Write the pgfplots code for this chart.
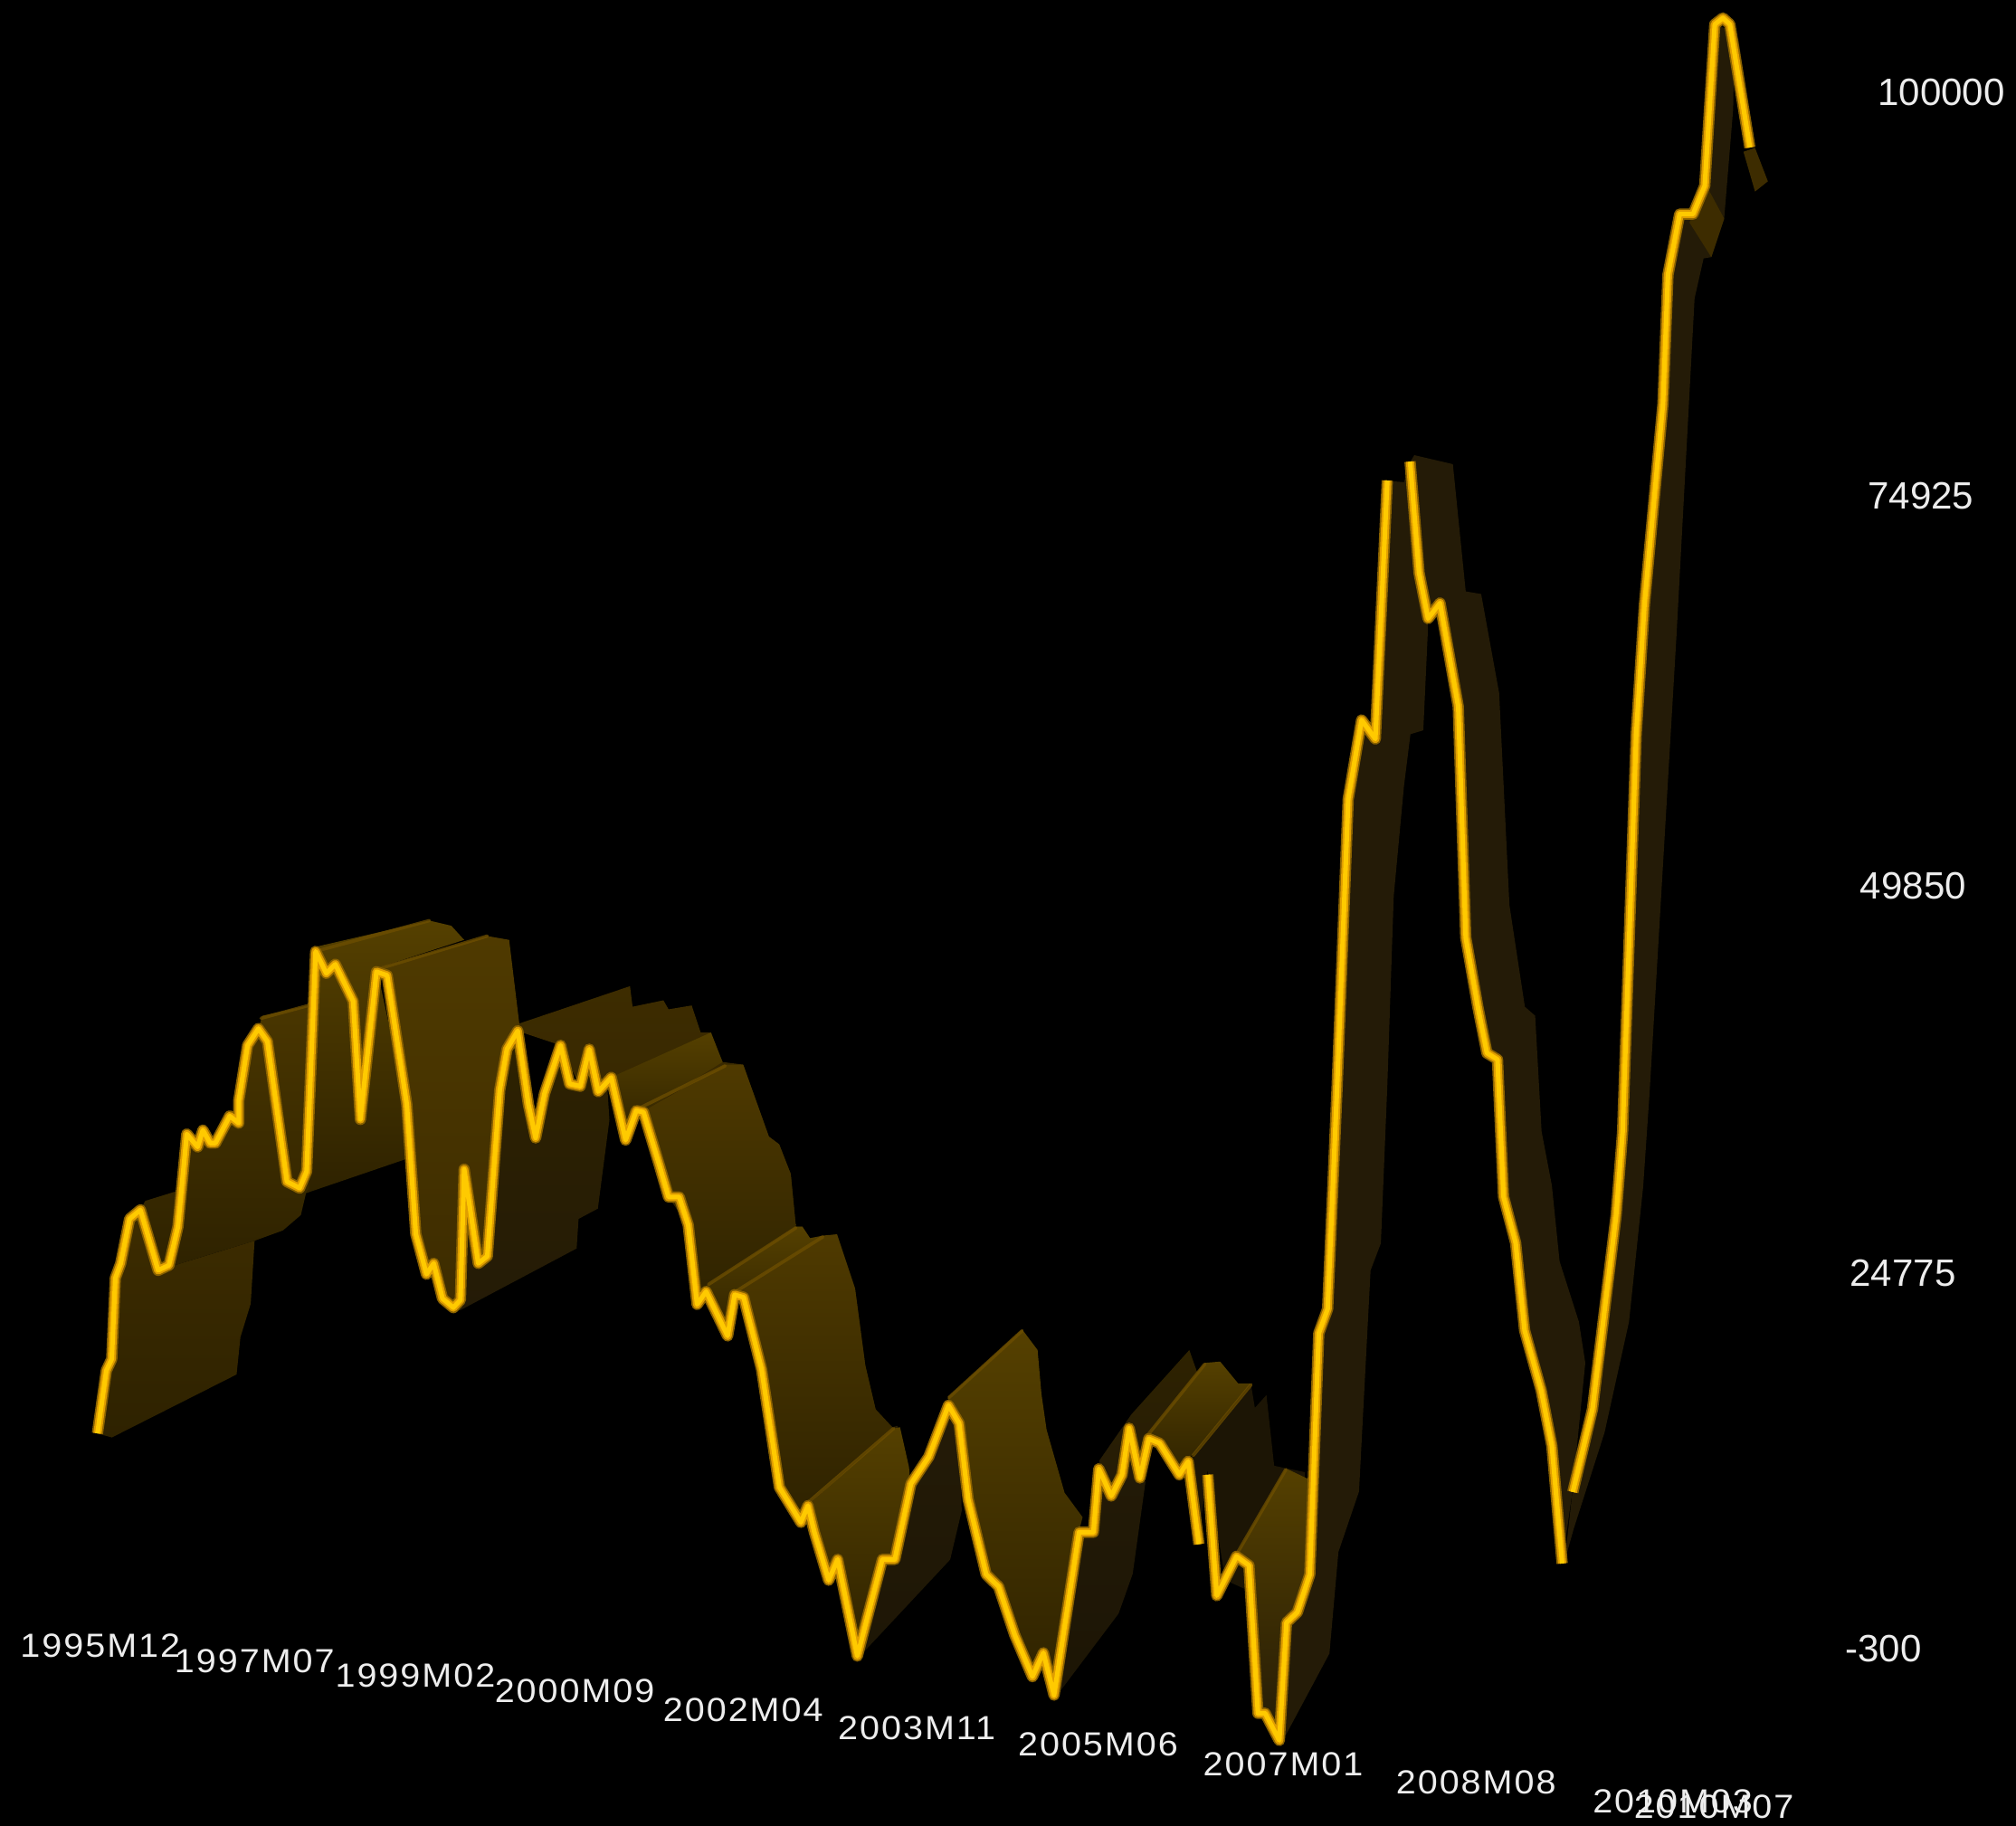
\documentclass[border=0pt]{standalone}
\usepackage{graphicx}
\usepackage{pgfplots}
\usepackage{pgfplotstable}
\usepackage{fontspec}
\setmainfont{Liberation Sans}
\newfontfamily\xfont[LetterSpace=5]{Liberation Sans}
\pgfplotsset{compat=1.18}
\definecolor{txt}{HTML}{EDEDED}
\definecolor{lit}{HTML}{554000}
\definecolor{top2}{HTML}{4F3A00}
\definecolor{mid}{HTML}{3D2C00}
\definecolor{low}{HTML}{2E2200}
\definecolor{dk}{HTML}{241B07}
\definecolor{vdk}{HTML}{1C1505}
\definecolor{ridge}{HTML}{6E4F00}
\definecolor{gA}{HTML}{8A6200}
\definecolor{gB}{HTML}{E09E00}
\definecolor{gC}{HTML}{FFCA00}
\pgfplotstableread{
x y
75.8 1114.8
82.7 1066
86.9 1057
89.7 994
93.9 982.6
100.8 948
109.2 941
123 988
131.4 984
138.4 954
145.3 882
153.7 892
157.8 879
163.4 889
167.6 889
178.7 868
185.7 873.5
185.7 856
192.6 813
201 800
208 810
223.2 919
233 924
238.5 911
245.5 740
253.8 757
260.8 750
274.7 778.7
280.3 870.6
292.8 755.8
301.1 758.6
316.4 859
323.4 959.7
331.7 991
337.3 982.6
344.2 1010
352.6 1017
358.1 1011
361 909.4
372 982.6
379 977
388.7 847.7
394.3 816
402.7 801.7
411 859
416.6 885
423.5 850.5
436 813
443 843
451.3 844.8
458.3 816
465.3 849
475.4 838
486.6 886.7
494.9 863.8
500.5 865
513 906.8
520 931
528.3 931
535.3 952.8
542.2 1014.5
549.2 1004.5
565.9 1039
571.4 1007
578.4 1009
592.3 1064.8
606.2 1156.7
622.9 1184
628.4 1171
633.4 1191.7
644.5 1229
651.5 1212.8
666.8 1288
686.3 1212.8
696 1212.8
708.5 1154
722.4 1133
737.7 1093
746 1107
753 1166
767 1224.5
776.7 1234
789.2 1271.5
803 1304
811.5 1285.5
819.8 1318.4
839.3 1191.7
850.4 1191.7
854.6 1142.4
864.3 1163.5
872.7 1147
878.2 1110.8
886.6 1149.5
893.5 1119
901.9 1122.5
917.2 1147
924.1 1136.6
932.5 1201
}\lineA
\pgfplotstableread{
x y
939.4 1147
946.4 1241
961.7 1210.5
971.4 1217.5
978.4 1332.5
984 1332.5
995 1353.6
1000.6 1262
1009 1254
1018.7 1224.5
1025.7 1037
1032.6 1018
1040 844.5
1048.6 621.4
1059 560
1069.7 574.7
1079 373.7
}\lineB
\pgfplotstableread{
x y
1096.7 359
1103.7 445.5
1110.7 481
1120 469
1134.2 549.6
1140 729
1149.4 783
1156.5 819
1164.7 824
1169.4 930.7
1178.8 966.6
1185.8 1034.8
1198.7 1081.4
1207 1124.5
1215 1216
}\lineC
\pgfplotstableread{
x y
1223.3 1160.4
1238.6 1095.8
1257 945
1262 880.4
1272.6 571
1279 470
1293.4 314
1297.3 213.7
1306.4 166.5
1316.8 166.5
1325.9 144.5
1333.7 18.9
1340 14
1345.4 18.9
1361 114.7
}\lineD
\newcommand{\band}[3]{\addplot[draw=none,top color=#1,bottom color=#2] coordinates {#3};}
\newcommand{\rdg}[1]{\addplot[ridge,line width=1.3pt,opacity=0.75,line cap=round,no markers] coordinates {#1};}
\newcommand{\glow}[1]{%
\addplot[gA,line width=4.4pt,line join=round,no markers] table[x=x,y=y] {#1};
\addplot[gB,line width=3.2pt,line join=round,no markers] table[x=x,y=y] {#1};
\addplot[gC,line width=1.8pt,line join=round,no markers] table[x=x,y=y] {#1};}
\newcommand{\xl}[3]{\node[txt,font=\xfont\fontsize{13}{15}\selectfont] at (axis cs:#1,#2) {\scalebox{1.07}[1]{#3}};}
\newcommand{\yl}[3]{\node[txt,font=\fontsize{14.8}{16}\selectfont] at (axis cs:#1,#2) {#3};}
\begin{document}
\begin{tikzpicture}
\begin{axis}[scale only axis,width=784pt,height=710pt,xmin=0,xmax=1568,ymin=0,ymax=1420,y dir=reverse,hide axis,clip=true]
\addplot[draw=none,fill=black] coordinates {(0,0)(1568,0)(1568,1420)(0,1420)};
% back strips, middle section
\band{mid}{dk}{(403,802)(404,796)(490,767)(492,783)(516,778)(520,785)(538,782)(545,803)(552,803)(562,826)(578,828)(598,884)(606,890)(615,913)(619,954)(624,954)(630,963)(651,960)(665,1002)(673,1062)(681,1096)(690,1111)(698,1109)(707,1145)(690,1150)(628,1171)(606,1157)(592,1065)(578,1009)(542,1014)(535,953)(520,931)(500,865)(475,838)(465,849)(451,845)(436,813)}
\band{lit}{low}{(475,838)(553,803)(562,826)(506,861)(500,865)(495,864)(486,887)}
\band{top2}{low}{(495,864)(500,865)(506,861)(564,828)(578,828)(598,884)(606,890)(615,913)(619,954)(551,999)(542,1014)(535,953)(528,931)(520,931)(513,907)}
\band{lit}{low}{(549,1004)(551,999)(619,954)(624,954)(630,963)(640,961)(573,1004)(566,1039)}
\band{top2}{low}{(571,1007)(578,1009)(592,1065)(606,1157)(623,1184)(628,1168)(695,1111)(681,1096)(673,1062)(665,1002)(651,960)(640,961)(573,1004)}
\band{lit}{low}{(628,1171)(633,1192)(645,1229)(652,1213)(667,1288)(686,1213)(696,1213)(708,1154)(707,1141)(700,1110)(695,1111)}
\band{dk}{vdk!80!dk}{(667,1288)(686,1213)(696,1213)(708,1154)(722,1133)(738,1093)(746,1107)(748,1175)(739,1213)(667,1290)}
% left section
\band{mid}{low}{(76,1115)(83,1066)(87,1057)(90,994)(94,983)(101,948)(109,941)(123,988)(198,965)(195,1014)(187,1040)(184,1069)(87,1118)}
\band{low}{dk}{(353,1017)(358,1011)(361,909)(372,983)(379,977)(389,848)(394,816)(403,802)(411,859)(417,885)(424,851)(436,813)(443,843)(451,845)(458,816)(465,849)(472,840)(474,871)(465,940)(450,948)(448.5,971)(358,1019)}
\band{lit}{low}{(245,740)(243,737)(334,716)(351,720)(361,731)(293,753)(316,859)(323,899)(238,928)(240,925)}
\band{top2}{low}{(109,941)(113,934)(142,925)(145,882)(154,892)(158,879)(163,889)(168,889)(179,868)(186,856)(193,813)(201,800)(204,790)(240,782)(246,740)(240,925)(238,928)(234,945)(220,957)(198,965)(123,988)}
\band{top2}{mid}{(293,753)(379,728)(396,731)(404,797)(403,802)(394,816)(389,848)(379,977)(372,983)(361,909)(358,1011)(353,1017)(344,1010)(337,983)(332,991)(323,960)(316,859)(301,759)}
% second hump
\band{lit}{low}{(738,1093)(738,1086)(795,1034)(807,1050)(810,1084)(814,1112)(828,1161)(842,1180)(839,1192)(820,1318)(811,1286)(803,1304)(789,1271)(777,1234)(767,1224)(753,1166)(746,1107)}
\band{dk}{vdk}{(820,1318)(839,1192)(850,1192)(855,1142)(864,1163)(873,1147)(878,1111)(887,1150)(891,1152)(881,1224)(870,1255)(821,1320)}
\band{low}{dk}{(855,1142)(855,1136)(880,1100)(925,1050)(931,1067)(893,1119)(887,1150)(878,1111)(873,1147)(864,1163)}
\band{vdk}{vdk}{(928,1133)(973,1077)(976,1095)(985,1085)(991,1140)(1015,1145)(1009,1254)(953,1229)(939,1143)(932,1201)}
\band{lit}{low}{(892,1117)(937,1060)(949,1059)(963,1076)(973,1076)(928,1131)(924,1135)(917,1147)(902,1122)(893,1119)}
\band{lit}{dk}{(947,1241)(962,1210)(971,1217)(978,1332)(984,1332)(995,1353)(1001,1262)(1009,1254)(1019,1224)(1019,1151)(1000,1142)(953,1224)}
% right section
\band{dk}{dk}{(995,1353)(1001,1262)(1009,1254)(1019,1224)(1026,1037)(1033,1018)(1040,844)(1049,621)(1059,560)(1070,575)(1079,374)(1092,375)(1097,359)(1104,445)(1111,481)(1107,568)(1097,571)(1092,611)(1084,697)(1079,845)(1074,967)(1066,988)(1057,1160)(1041,1207)(1034,1286)(996,1357)}
\band{dk}{dk}{(1097,359)(1100,354)(1130,361)(1140,460)(1152,462)(1166,539)(1174,704)(1186,783)(1194,790)(1199,880)(1207,922)(1213,981)(1228,1028)(1233,1060)(1223,1160)(1215,1216)(1207,1124)(1199,1081)(1186,1035)(1179,967)(1169,931)(1165,824)(1156,819)(1149,783)(1140,729)(1134,550)(1120,469)(1111,481)(1104,445)}
\band{dk}{dk}{(1217,1214)(1223,1160)(1239,1096)(1257,945)(1262,880)(1273,571)(1279,470)(1293,314)(1297,214)(1306,166)(1317,167)(1326,144)(1334,19)(1349,25)(1348,85)(1341,170)(1331,200)(1325,201)(1318,232)(1304,493)(1283,850)(1278,923)(1267,1028)(1248,1114)(1224,1189)}
\band{mid}{mid}{(1314,173)(1331,200)(1341,170)(1327,144)}
\band{dk}{dk}{(1345,19)(1361,115)(1365,115)(1352,30)}
\band{mid}{mid}{(1356,118)(1365,115)(1375,141)(1365,149)}
% lit ridges
\rdg{(245,740)(334,716)}
\rdg{(293,754)(379,728)}
\rdg{(203,792)(240,782)}
\rdg{(495,863)(564,829)}
\rdg{(551,999)(619,955)}
\rdg{(573,1004)(640,962)}
\rdg{(628,1169)(695,1111)}
\rdg{(738,1087)(795,1035)}
\rdg{(892,1117)(937,1061)}
\rdg{(928,1132)(973,1077)}
\rdg{(953,1224)(1000,1143)}
% the line
\glow{\lineA}
\glow{\lineB}
\glow{\lineC}
\glow{\lineD}
% labels
\xl{78}{1280}{1995M12}
\xl{198}{1292}{1997M07}
\xl{323}{1303}{1999M02}
\xl{447}{1315}{2000M09}
\xl{578}{1330}{2002M04}
\xl{713}{1344}{2003M11}
\xl{854}{1357}{2005M06}
\xl{998}{1372}{2007M01}
\xl{1148}{1386}{2008M08}
\xl{1301}{1401}{2010M03}
\xl{1333}{1405}{2010M07}
\yl{1510}{72}{100000}
\yl{1494}{386}{74925}
\yl{1488}{689}{49850}
\yl{1480}{990}{24775}
\yl{1465}{1282}{-300}
\end{axis}
\end{tikzpicture}
\end{document}
